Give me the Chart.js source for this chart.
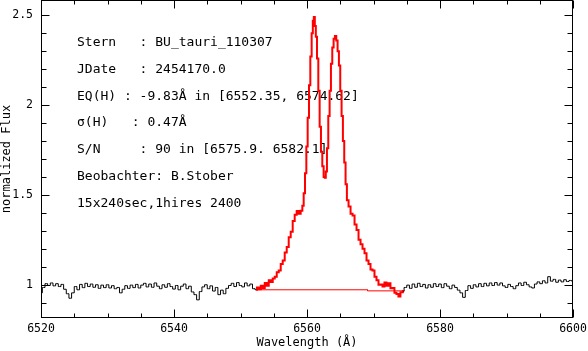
<!DOCTYPE html>
<html>
<head>
<meta charset="utf-8">
<script src="https://cdn.jsdelivr.net/npm/chart.js@4.4.0/dist/chart.umd.min.js"></script>
<style>
  html, body { margin: 0; padding: 0; background: #fff; }
</style>
</head>
<body>
<canvas id="spec" width="588" height="351"></canvas>
<script>
// axis ranges and tick labels
const xRange = [6520, 6600];
const yRange = [0.815, 2.585];
const xTickLabels = ['6520', '6540', '6560', '6580', '6600'];
const yTickLabels = ['1', '1.5', '2', '2.5'];

// black spectrum outside the line region, sampled every 0.4 A
const sampleStep = 0.4;
const leftStart = 6520.0;
const leftFlux = [
  0.955, 0.985, 1.006, 0.996, 1.010, 0.994, 1.006, 0.990, 1.002, 0.975,
  0.950, 0.925, 0.955, 0.990, 0.972, 1.002, 0.984, 1.008, 0.990, 1.004,
  0.986, 1.000, 0.980, 0.998, 0.984, 1.000, 0.982, 0.995, 0.978, 0.985,
  0.955, 0.975, 0.995, 0.980, 0.998, 0.984, 1.002, 0.982, 0.998, 1.008,
  0.988, 1.004, 0.986, 1.010, 0.992, 0.978, 1.000, 0.986, 1.006, 0.990,
  0.976, 0.996, 0.972, 0.992, 1.004, 0.978, 0.992, 0.960, 0.945, 0.916,
  0.962, 0.988, 1.000, 0.978, 0.994, 0.965, 0.985, 0.945, 0.970, 0.950,
  0.980, 0.996, 1.008, 0.990, 1.012, 0.996, 0.988, 1.010, 0.994, 1.004,
  0.978, 0.972
];
const rightStart = 6574.4;
const rightFlux = [
  0.965, 0.985, 0.998, 0.980, 1.004, 0.986, 1.008, 0.990, 1.002, 0.982,
  1.000, 0.986, 1.006, 0.990, 1.004, 0.984, 1.006, 0.992, 0.978, 0.998,
  0.985, 0.970, 0.955, 0.930, 0.968, 0.995, 0.980, 1.000, 0.988, 1.006,
  0.990, 1.008, 0.994, 1.010, 0.996, 1.012, 0.998, 1.010, 0.994, 0.985,
  1.002, 0.990, 0.978, 0.995, 1.010, 0.996, 1.014, 1.000, 0.988, 0.982,
  1.004, 1.016, 1.006, 1.022, 1.010, 1.045, 1.020, 1.030, 1.014, 1.026,
  1.016, 1.028, 1.018, 1.024, 1.020
];

// H-alpha emission profile (red)
const redWave = [
  6552.35, 6552.6, 6552.9, 6553.2, 6553.5, 6553.8, 6554.1, 6554.4, 6554.7, 6555.0,
  6555.3, 6555.6, 6555.9, 6556.2, 6556.5, 6556.8, 6557.1, 6557.4, 6557.7, 6558.0,
  6558.3, 6558.6, 6558.9, 6559.2, 6559.4, 6559.6, 6559.8, 6560.0, 6560.2, 6560.4,
  6560.6, 6560.8, 6560.95, 6561.1, 6561.25, 6561.4, 6561.6, 6561.8, 6562.0, 6562.2,
  6562.4, 6562.6, 6562.75, 6562.9, 6563.1, 6563.3, 6563.5, 6563.7, 6563.9, 6564.1,
  6564.3, 6564.5, 6564.7, 6564.9, 6565.1, 6565.3, 6565.5, 6565.7, 6565.9, 6566.1,
  6566.4, 6566.7, 6567.0, 6567.3, 6567.6, 6567.9, 6568.2, 6568.5, 6568.8, 6569.1,
  6569.4, 6569.7, 6570.0, 6570.3, 6570.6, 6570.9, 6571.2, 6571.5, 6571.8, 6572.1,
  6572.4, 6572.7, 6573.0, 6573.3, 6573.6, 6573.9, 6574.2, 6574.62
];
const redFlux = [
  0.972, 0.985, 0.975, 0.995, 0.982, 1.010, 0.995, 1.025, 1.015, 1.035,
  1.045, 1.070, 1.080, 1.115, 1.135, 1.180, 1.210, 1.265, 1.295, 1.355,
  1.390, 1.410, 1.395, 1.412, 1.440, 1.510, 1.620, 1.770, 1.930, 2.110,
  2.270, 2.400, 2.470, 2.490, 2.440, 2.380, 2.260, 2.080, 1.880, 1.740,
  1.660, 1.600, 1.595, 1.630, 1.760, 1.940, 2.080, 2.230, 2.320, 2.370,
  2.385, 2.360, 2.300, 2.220, 2.080, 1.940, 1.800, 1.680, 1.560, 1.470,
  1.435, 1.395, 1.385, 1.335, 1.305, 1.250, 1.225, 1.200, 1.175, 1.135,
  1.115, 1.085, 1.080, 1.045, 1.025, 1.000, 1.002, 0.990, 1.012, 0.995,
  1.008, 0.980, 0.982, 0.955, 0.948, 0.935, 0.958, 0.965
];

// continuum level under the line
const baseWave = [6552.35, 6569.1, 6569.1, 6574.62];
const baseFlux = [0.972, 0.972, 0.966, 0.966];

const infoLines = [
  'Stern   : BU_tauri_110307',
  'JDate   : 2454170.0',
  'EQ(H) : -9.83Å in [6552.35, 6574.62]',
  'σ(H)   : 0.47Å',
  'S/N     : 90 in [6575.9. 6582.1]',
  'Beobachter: B.Stober',
  '15x240sec,1hires 2400'
];

function pts(start, flux) {
  return flux.map((f, i) => ({ x: +(start + i * sampleStep).toFixed(2), y: f }));
}
function pairs(ws, fs) {
  return ws.map((w, i) => ({ x: w, y: fs[i] }));
}

const infoText = {
  id: 'infoText',
  beforeDatasetsDraw(chart) {
    const ctx = chart.ctx;
    ctx.save();
    ctx.fillStyle = '#000';
    ctx.font = '13px "DejaVu Sans Mono"';
    ctx.textBaseline = 'alphabetic';
    infoLines.forEach((t, i) => ctx.fillText(t, 77, 46 + i * 26.8));
    ctx.restore();
  }
};

const frameTicks = {
  id: 'frameTicks',
  afterDatasetsDraw(chart) {
    const { ctx, chartArea: a, scales: { x, y } } = chart;
    const L = Math.round(a.left) + 0.5, R = Math.round(a.right) - 0.5;
    const T = Math.round(a.top) + 0.5, B = Math.round(a.bottom) - 0.5;
    ctx.save();
    ctx.strokeStyle = '#000';
    ctx.lineWidth = 1;
    ctx.beginPath();
    for (let w = xRange[0]; w <= xRange[1]; w += 5) {
      const px = Math.round(x.getPixelForValue(w)) + 0.5;
      const len = w % 20 === 0 ? 8 : 4;
      ctx.moveTo(px, B); ctx.lineTo(px, B - len);
      ctx.moveTo(px, T); ctx.lineTo(px, T + len);
    }
    for (let k = 9; k <= 25; k++) {
      const py = Math.round(y.getPixelForValue(k / 10)) + 0.5;
      const len = k % 5 === 0 ? 8 : 5;
      ctx.moveTo(L, py); ctx.lineTo(L + len, py);
      ctx.moveTo(R, py); ctx.lineTo(R - len, py);
    }
    ctx.stroke();
    ctx.strokeRect(L, T, R - L, B - T);
    ctx.restore();
  }
};

const tickFont = { family: 'DejaVu Sans Mono', size: 11.5 };
const titleFont = { family: 'DejaVu Sans Mono', size: 12 };

new Chart(document.getElementById('spec'), {
  type: 'line',
  data: {
    datasets: [
      { data: pairs(baseWave, baseFlux), borderColor: '#ff0000', borderWidth: 1 },
      { data: pts(leftStart, leftFlux), borderColor: '#000', borderWidth: 1, stepped: 'middle' },
      { data: pts(rightStart, rightFlux), borderColor: '#000', borderWidth: 1, stepped: 'middle' },
      { data: pairs(redWave, redFlux), borderColor: '#ff0000', borderWidth: 2, stepped: 'middle' }
    ]
  },
  options: {
    responsive: false,
    animation: false,
    devicePixelRatio: 1,
    layout: { padding: { top: 0, right: 15, left: 0, bottom: 0 } },
    elements: { point: { radius: 0 }, line: { tension: 0 } },
    plugins: { legend: { display: false }, tooltip: { enabled: false } },
    scales: {
      x: {
        type: 'linear',
        min: xRange[0], max: xRange[1],
        grid: { display: false, drawTicks: false },
        border: { display: false },
        afterBuildTicks: s => { s.ticks = xTickLabels.map(v => ({ value: +v })); },
        afterFit: s => { s.height = 33; s.paddingLeft = 0; s.paddingRight = 0; },
        ticks: { color: '#000', font: tickFont, padding: 4, maxRotation: 0,
                 callback: v => String(v) },
        title: { display: true, text: 'Wavelength (Å)', color: '#000', font: titleFont,
                 padding: { top: 0, bottom: 1 } }
      },
      y: {
        type: 'linear',
        min: yRange[0], max: yRange[1],
        grid: { display: false, drawTicks: false },
        border: { display: false },
        afterBuildTicks: s => { s.ticks = yTickLabels.map(v => ({ value: +v })); },
        afterFit: s => { s.width = 41; s.paddingTop = 0; s.paddingBottom = 0; },
        ticks: { color: '#000', font: tickFont, padding: 8,
                 callback: v => String(v) },
        title: { display: true, text: 'normalized Flux', color: '#000', font: titleFont,
                 padding: { top: 0, bottom: 0 } }
      }
    }
  },
  plugins: [infoText, frameTicks]
});
</script>
</body>
</html>
